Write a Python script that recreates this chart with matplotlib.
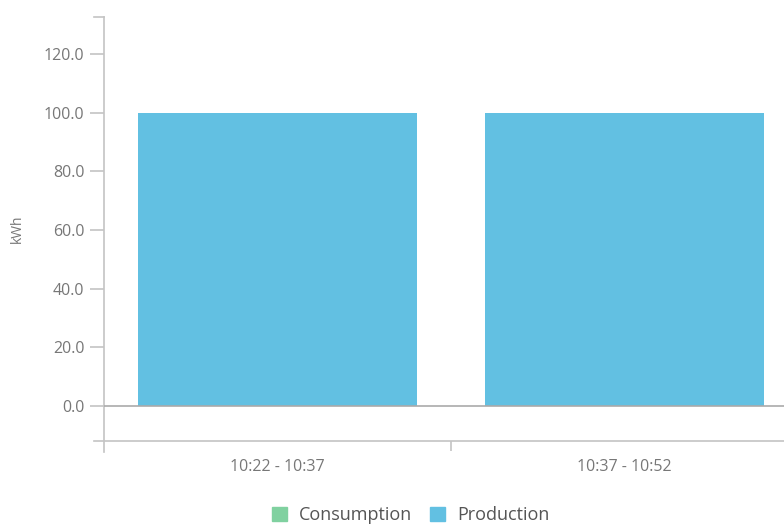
import matplotlib.pyplot as plt
from matplotlib.lines import Line2D
from matplotlib.patches import Patch

plt.rcParams["font.family"] = ["Open Sans", "DejaVu Sans"]

intervals = ["10:22 - 10:37", "10:37 - 10:52"]
consumption = [0, 0]
production = [100.0, 100.0]
y_ticks = [0, 20, 40, 60, 80, 100, 120]

green = "#80d1a0"
blue = "#62c0e2"
axis_grey = "#c4c4c4"
text_grey = "#777777"

fig = plt.figure(figsize=(7.84, 5.24), dpi=100)
ax = fig.add_axes([104 / 784, 1 - 441 / 524, 680 / 784, 424 / 524])

x = list(range(len(intervals)))
ax.bar(x, consumption, width=0.804, color=green, zorder=2)
ax.bar(x, production, width=0.804, color=blue, zorder=2)

ax.set_xlim(-0.5, -0.5 + 680 / 347)
ax.set_ylim(-11.93, 132.6)

# zero line across the plot
ax.axhline(0, color="#aaaaaa", lw=1.2, zorder=3)

for side in ["top", "right", "left", "bottom"]:
    ax.spines[side].set_visible(False)

# axis lines drawn by hand so they overshoot each other
ax.add_line(Line2D([0, 0], [-11 / 424, 1], transform=ax.transAxes,
                   color=axis_grey, lw=1.2, clip_on=False))
ax.add_line(Line2D([-10 / 680, 1], [0, 0], transform=ax.transAxes,
                   color=axis_grey, lw=1.2, clip_on=False))
ax.add_line(Line2D([-10 / 680, 0], [1, 1], transform=ax.transAxes,
                   color=axis_grey, lw=1.2, clip_on=False))

ax.set_yticks(y_ticks)
ax.set_yticklabels([f"{v:.1f}" for v in y_ticks])
ax.tick_params(axis="y", length=10, width=1.2, color=axis_grey,
               labelcolor=text_grey, labelsize=11.5, pad=4)

ax.set_xticks(x)
ax.set_xticklabels(intervals)
ax.set_xticks([0.5], minor=True)
ax.tick_params(axis="x", which="major", length=0, labelcolor=text_grey,
               labelsize=11.5, pad=13)
ax.tick_params(axis="x", which="minor", length=7, width=1.2, color=axis_grey)

ax.set_ylabel("kWh", color=text_grey, fontsize=10, labelpad=14)

handles = [Patch(color=green, label="Consumption"),
           Patch(color=blue, label="Production")]
fig.legend(handles=handles, loc="center", bbox_to_anchor=(411 / 784, 1 - 515 / 524),
           ncol=2, frameon=False, fontsize=13, handlelength=0.8, handleheight=0.8,
           handletextpad=0.7, columnspacing=1.0, labelcolor="#555555")

fig.savefig("out.png", dpi=100)
